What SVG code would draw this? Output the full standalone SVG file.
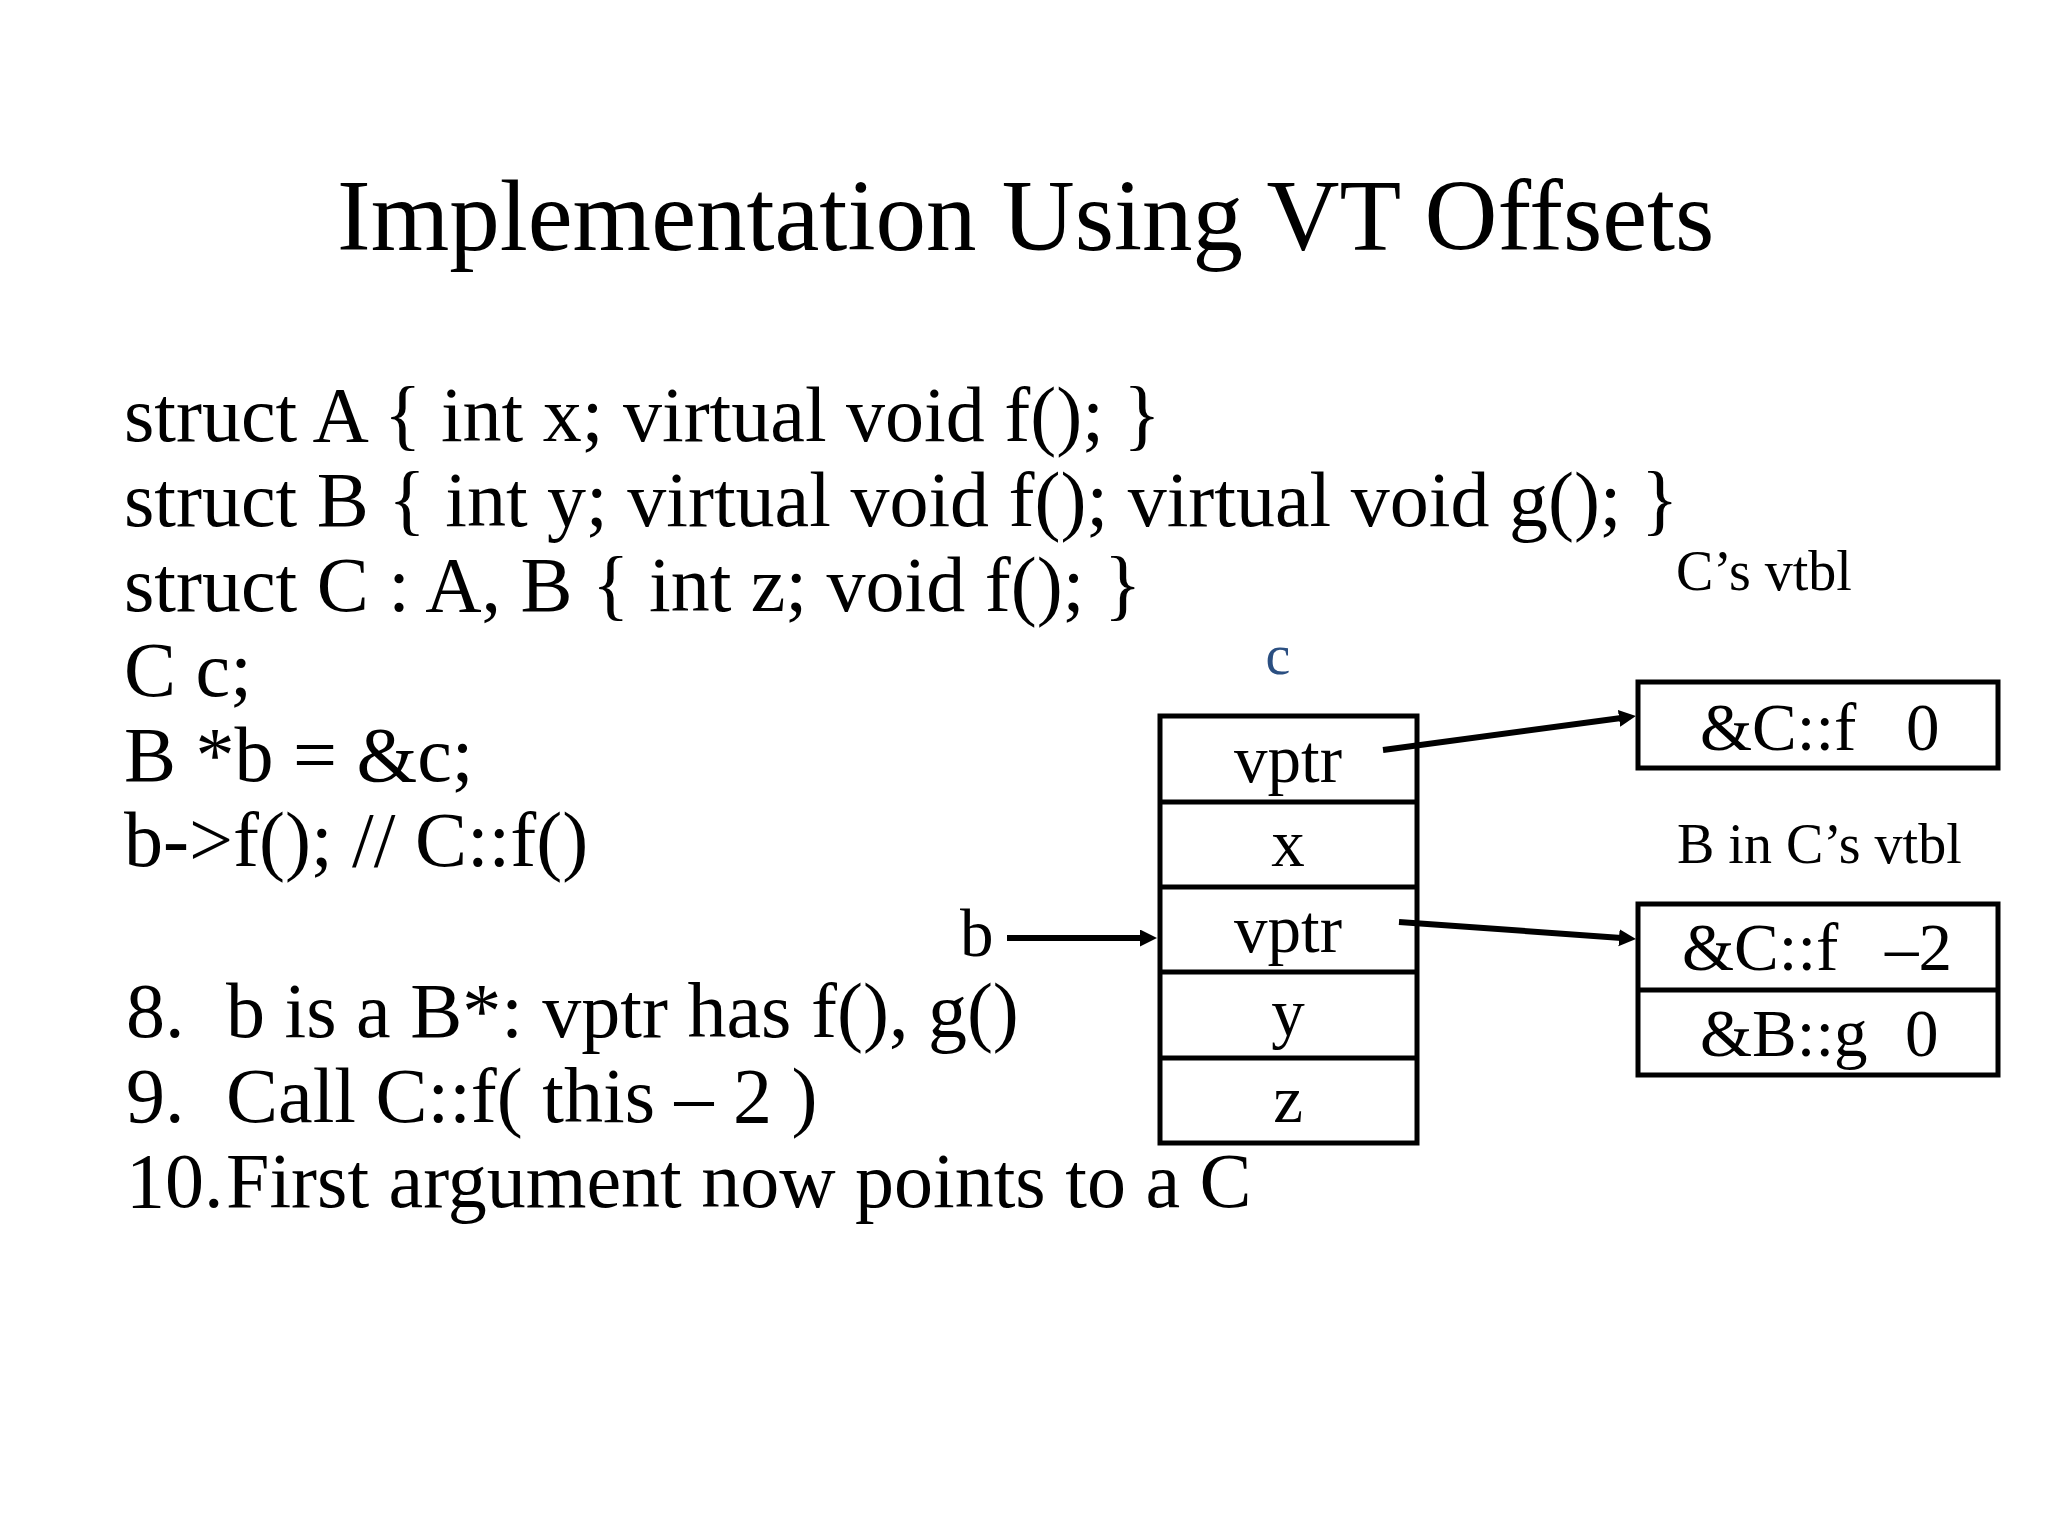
<svg xmlns="http://www.w3.org/2000/svg" width="2048" height="1536" viewBox="0 0 2048 1536">
<defs>
<marker id="ah" markerUnits="userSpaceOnUse" markerWidth="18" markerHeight="18" refX="6" refY="8.5" orient="auto">
<path d="M0,0 L17,8.5 L0,17 Z" fill="#000"/>
</marker>
<style>
text{font-family:"Liberation Serif","Times New Roman",serif;fill:#000}
.title{font-size:101px}
.code{font-size:78px}
.cell{font-size:67px;text-anchor:middle}
.vt{font-size:67px}
.lbl{font-size:56px}
.box{fill:none;stroke:#000;stroke-width:5}
.conn{stroke:#000;stroke-width:6;fill:none;marker-end:url(#ah)}
</style>
</defs>
<rect width="2048" height="1536" fill="#fff"/>
<text id="title" class="title" x="337" y="250">Implementation Using VT Offsets</text>
<g id="code" class="code">
<text x="124" y="441">struct A { int x; virtual void f(); }</text>
<text x="124" y="526">struct B { int y; virtual void f(); virtual void g(); }</text>
<text x="124" y="611">struct C : A, B { int z; void f(); }</text>
<text x="124" y="696">C c;</text>
<text x="124" y="781">B *b = &amp;c;</text>
<text x="124" y="866">b-&gt;f(); // C::f()</text>
<text x="126" y="1037">8.<tspan x="226">b is a B*: vptr has f(), g()</tspan></text>
<text x="126" y="1122">9.<tspan x="226">Call C::f( this – 2 )</tspan></text>
<text x="126" y="1207">10.<tspan x="226">First argument now points to a C</tspan></text>
</g>
<g id="object-c">
<text class="lbl" x="1278" y="674" text-anchor="middle" style="fill:#2B4F81">c</text>
<rect class="box" x="1160" y="716" width="257" height="427"/>
<line class="box" x1="1160" y1="802" x2="1417" y2="802"/>
<line class="box" x1="1160" y1="887" x2="1417" y2="887"/>
<line class="box" x1="1160" y1="972" x2="1417" y2="972"/>
<line class="box" x1="1160" y1="1058" x2="1417" y2="1058"/>
<text class="cell" x="1288" y="782">vptr</text>
<text class="cell" x="1288" y="866">x</text>
<text class="cell" x="1288" y="952">vptr</text>
<text class="cell" x="1288" y="1036">y</text>
<text class="cell" x="1288" y="1122">z</text>
</g>
<g id="b-label">
<text class="vt" x="960" y="956">b</text>
</g>
<g id="c-vtbl">
<text class="lbl" x="1676" y="590">C’s vtbl</text>
<rect class="box" x="1638" y="682" width="360" height="86"/>
<text class="vt" x="1700" y="750">&amp;C::f<tspan x="1906">0</tspan></text>
</g>
<g id="b-in-c-vtbl">
<text class="lbl" x="1677" y="863">B in C’s vtbl</text>
<rect class="box" x="1638" y="904" width="360" height="171"/>
<line class="box" x1="1638" y1="990" x2="1998" y2="990"/>
<text class="vt" x="1682" y="970">&amp;C::f<tspan x="1885">–2</tspan></text>
<text class="vt" x="1700" y="1056">&amp;B::g<tspan x="1905">0</tspan></text>
</g>
<g id="connectors">
<line class="conn" x1="1383" y1="750" x2="1625" y2="717.5"/>
<line class="conn" x1="1399" y1="922" x2="1625" y2="938.2"/>
<line class="conn" x1="1007" y1="938" x2="1146" y2="938"/>
</g>
</svg>
